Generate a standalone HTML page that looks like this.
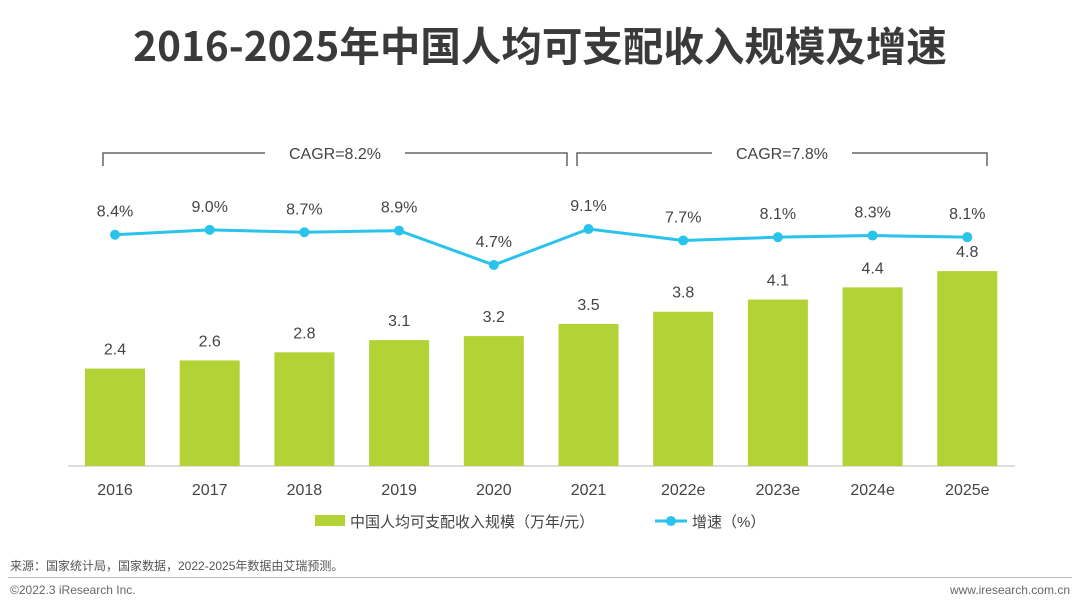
<!DOCTYPE html>
<html><head><meta charset="utf-8">
<style>
body{margin:0;background:#fff;}
#wrap{position:relative;width:1080px;height:612px;overflow:hidden;font-family:"Liberation Sans","Noto Sans CJK SC",sans-serif;}
.t{position:absolute;white-space:nowrap;}
</style></head>
<body>
<div id="wrap">
<div class="t" style="left:0;width:1080px;text-align:center;top:14px;font-size:40.5px;font-weight:bold;color:#3a3a3a;font-family:'Noto Sans CJK SC','WenQuanYi Zen Hei',sans-serif;">2016-2025年中国人均可支配收入规模及增速</div>
<svg id="chart" width="1080" height="612" style="position:absolute;left:0;top:0"></svg>
<div class="t" style="left:10px;top:557px;font-size:12px;color:#555;">来源：国家统计局，国家数据，2022-2025年数据由艾瑞预测。</div>
<div style="position:absolute;left:8px;top:577px;width:1064px;height:1px;background:#bbb;"></div>
<div class="t" style="left:10px;top:583px;font-size:12px;color:#666;">©2022.3 iResearch Inc.</div>
<div class="t" style="right:10px;top:583px;font-size:12px;color:#666;">www.iresearch.com.cn</div>
</div>
<script>
const categories=["2016","2017","2018","2019","2020","2021","2022e","2023e","2024e","2025e"];
const incomeValues=[2.4,2.6,2.8,3.1,3.2,3.5,3.8,4.1,4.4,4.8];
const growthValues=[8.4,9.0,8.7,8.9,4.7,9.1,7.7,8.1,8.3,8.1];
const growthLabels=["8.4%","9.0%","8.7%","8.9%","4.7%","9.1%","7.7%","8.1%","8.3%","8.1%"];
const cagrLabels=["CAGR=8.2%","CAGR=7.8%"];
const NS="http://www.w3.org/2000/svg";
const svg=document.getElementById('chart');
const x0=115,step=94.7,base=466,bw=60;
const xPos=i=>x0+i*step;
const yBar=v=>base-v*40.6;
const yLine=v=>229+(9.1-v)*8.18;
function mk(tag,attrs,parent){const e=document.createElementNS(NS,tag);for(const k in attrs)e.setAttribute(k,attrs[k]);(parent||svg).appendChild(e);return e;}
function txt(x,y,s,size,fill,anchor){const e=mk('text',{x:x,y:y,'font-size':size,fill:fill,'text-anchor':anchor||'middle','font-family':'Liberation Sans, Noto Sans CJK SC, sans-serif'});e.textContent=s;return e;}
const ax=mk('line',{x1:68,y1:base,x2:1015,y2:base,stroke:'#bbb','stroke-width':1});


categories.forEach((c,i)=>{
  const v=incomeValues[i];
  const r=mk('rect',{x:xPos(i)-bw/2,y:yBar(v),width:bw,height:base-yBar(v),fill:'#b2d235'});
  
  
  const l=txt(xPos(i),yBar(v)-14,v.toFixed(1),16,'#444');
  
  
  const t=txt(xPos(i),495,c,16,'#444');
  
  
});
const pts=growthValues.map((v,i)=>xPos(i)+','+yLine(v)).join(' ');
const pl=mk('polyline',{points:pts,fill:'none',stroke:'#29c3ec','stroke-width':3});


growthValues.forEach((v,i)=>{
  const c=mk('circle',{cx:xPos(i),cy:yLine(v),r:5,fill:'#29c3ec'});
  
  
  const l=txt(xPos(i),yLine(v)-18,growthLabels[i],16,'#444');
  
  
});
function bracket(x1,x2,label,name){
  const g=mk('g',{});
  
  
  const mid=(x1+x2)/2,y=153;
  mk('path',{d:`M${x1},166 V${y} H${mid-70} M${mid+70},${y} H${x2} V166`,fill:'none',stroke:'#666','stroke-width':1.5},g);
  const t=txt(mid,y+6,label,16,'#444');g.appendChild(t);
}
bracket(103,567,cagrLabels[0],'cagr-bracket-2016-2021');
bracket(577,987,cagrLabels[1],'cagr-bracket-2021-2025');
const lg=mk('g',{});


mk('rect',{x:315,y:515,width:30,height:11,fill:'#b2d235'},lg);
lg.appendChild(txt(350,527,'中国人均可支配收入规模（万年/元）',15,'#444','start'));
mk('line',{x1:655,y1:521,x2:687,y2:521,stroke:'#29c3ec','stroke-width':3},lg);
mk('circle',{cx:671,cy:521,r:5,fill:'#29c3ec'},lg);
lg.appendChild(txt(692,527,'增速（%）',15,'#444','start'));
</script>
</body></html>
